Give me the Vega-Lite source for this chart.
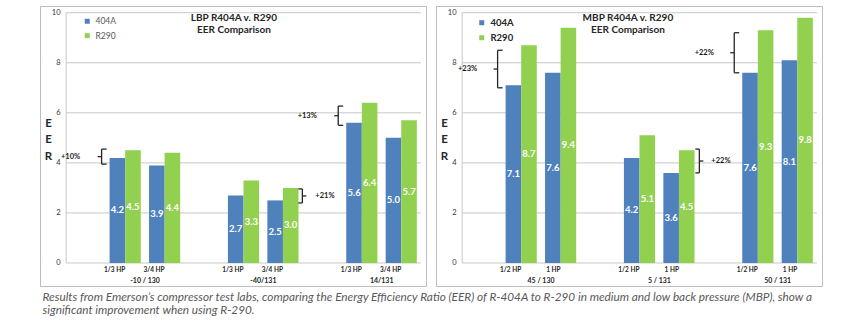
{
  "$schema": "https://vega.github.io/schema/vega-lite/v6.json",
  "background": "white",
  "padding": {"left": 39, "top": 5, "right": 0, "bottom": 0},
  "datasets": {
    "bars": [
      {"panel": "LBP", "group": "-10 / 130", "hp": "1/3 HP", "series": "404A", "value": 4.2},
      {"panel": "LBP", "group": "-10 / 130", "hp": "1/3 HP", "series": "R290", "value": 4.5},
      {"panel": "LBP", "group": "-10 / 130", "hp": "3/4 HP", "series": "404A", "value": 3.9},
      {"panel": "LBP", "group": "-10 / 130", "hp": "3/4 HP", "series": "R290", "value": 4.4},
      {"panel": "LBP", "group": "-40/131", "hp": "1/3 HP", "series": "404A", "value": 2.7},
      {"panel": "LBP", "group": "-40/131", "hp": "1/3 HP", "series": "R290", "value": 3.3},
      {"panel": "LBP", "group": "-40/131", "hp": "3/4 HP", "series": "404A", "value": 2.5},
      {"panel": "LBP", "group": "-40/131", "hp": "3/4 HP", "series": "R290", "value": 3.0},
      {"panel": "LBP", "group": "14/131", "hp": "1/3 HP", "series": "404A", "value": 5.6},
      {"panel": "LBP", "group": "14/131", "hp": "1/3 HP", "series": "R290", "value": 6.4},
      {"panel": "LBP", "group": "14/131", "hp": "3/4 HP", "series": "404A", "value": 5.0},
      {"panel": "LBP", "group": "14/131", "hp": "3/4 HP", "series": "R290", "value": 5.7},
      {"panel": "MBP", "group": "45 / 130", "hp": "1/2 HP", "series": "404A", "value": 7.1},
      {"panel": "MBP", "group": "45 / 130", "hp": "1/2 HP", "series": "R290", "value": 8.7},
      {"panel": "MBP", "group": "45 / 130", "hp": "1 HP", "series": "404A", "value": 7.6},
      {"panel": "MBP", "group": "45 / 130", "hp": "1 HP", "series": "R290", "value": 9.4},
      {"panel": "MBP", "group": "5 / 131", "hp": "1/2 HP", "series": "404A", "value": 4.2},
      {"panel": "MBP", "group": "5 / 131", "hp": "1/2 HP", "series": "R290", "value": 5.1},
      {"panel": "MBP", "group": "5 / 131", "hp": "1 HP", "series": "404A", "value": 3.6},
      {"panel": "MBP", "group": "5 / 131", "hp": "1 HP", "series": "R290", "value": 4.5},
      {"panel": "MBP", "group": "50 / 131", "hp": "1/2 HP", "series": "404A", "value": 7.6},
      {"panel": "MBP", "group": "50 / 131", "hp": "1/2 HP", "series": "R290", "value": 9.3},
      {"panel": "MBP", "group": "50 / 131", "hp": "1 HP", "series": "404A", "value": 8.1},
      {"panel": "MBP", "group": "50 / 131", "hp": "1 HP", "series": "R290", "value": 9.8}
    ],
    "ann": [
      {"panel": "LBP", "group": "-10 / 130", "hp": "1/3 HP", "side": "L", "lo": 3.95, "hi": 4.55, "label": "+10%"},
      {"panel": "LBP", "group": "14/131", "hp": "1/3 HP", "side": "L", "lo": 5.5, "hi": 6.27, "label": "+13%"},
      {"panel": "LBP", "group": "-40/131", "hp": "3/4 HP", "side": "R", "lo": 2.4, "hi": 2.96, "label": "+21%"},
      {"panel": "MBP", "group": "45 / 130", "hp": "1/2 HP", "side": "L", "lo": 7.0, "hi": 8.5, "label": "+23%"},
      {"panel": "MBP", "group": "50 / 131", "hp": "1/2 HP", "side": "L", "lo": 7.6, "hi": 9.2, "label": "+22%"},
      {"panel": "MBP", "group": "5 / 131", "hp": "1 HP", "side": "R", "lo": 3.6, "hi": 4.55, "label": "+22%"}
    ],
    "grid": [{"v": 0}, {"v": 2}, {"v": 4}, {"v": 6}, {"v": 8}, {"v": 10}],
    "titles": [
      {"panel": "LBP", "line1": "LBP R404A v. R290", "line2": "EER Comparison"},
      {"panel": "MBP", "line1": "MBP R404A v. R290", "line2": "EER Comparison"}
    ]
  },
  "title": {
    "text": ["Results from Emerson’s compressor test labs, comparing the Energy Efficiency Ratio (EER) of R-404A to R-290 in medium and low back pressure (MBP), show a", "significant improvement when using R-290."],
    "orient": "bottom", "anchor": "start", "offset": 5, "dx": 3, "baseline": "top",
    "font": "Lato", "fontStyle": "italic", "fontWeight": "normal", "fontSize": 11.8, "color": "#595959", "lineHeight": 13.5
  },
  "spacing": 8,
  "resolve": {"scale": {"x": "independent", "y": "independent", "xOffset": "independent"}, "legend": {"color": "independent"}},
  "hconcat": [
    {
      "width": 386, "height": 280,
      "layer": [
        {
          "data": {"name": "grid"},
          "mark": {"type": "rule", "color": "#c8c8c8", "strokeWidth": 1, "xOffset": -4, "x2Offset": 4},
          "encoding": {
            "x": {"datum": "gap1", "type": "nominal", "bandPosition": 0, "scale": {"domain": ["gap1", "-10 / 130|1/3 HP", "-10 / 130|3/4 HP", "gap2", "-40/131|1/3 HP", "-40/131|3/4 HP", "gap3", "14/131|1/3 HP", "14/131|3/4 HP"], "paddingInner": 0.21, "paddingOuter": 0.4985, "align": 0.767}},
            "x2": {"datum": "14/131|3/4 HP", "bandPosition": 1},
            "y": {"field": "v", "type": "quantitative", "scale": {"domain": [-0.919, 10.268], "nice": false, "zero": false}}
          }
        },
        {
          "data": {"name": "grid"},
          "transform": [{"filter": "datum.v === 0"}],
          "mark": {"type": "rule", "color": "#c8c8c8", "strokeWidth": 1, "xOffset": -4},
          "encoding": {
            "x": {"datum": "gap1", "type": "nominal", "bandPosition": 0, "scale": {"domain": ["gap1", "-10 / 130|1/3 HP", "-10 / 130|3/4 HP", "gap2", "-40/131|1/3 HP", "-40/131|3/4 HP", "gap3", "14/131|1/3 HP", "14/131|3/4 HP"], "paddingInner": 0.21, "paddingOuter": 0.4985, "align": 0.767}},
            "y": {"field": "v", "type": "quantitative", "scale": {"domain": [-0.919, 10.268], "nice": false, "zero": false}},
            "y2": {"datum": 10}
          }
        },
        {
          "data": {"name": "bars"},
          "transform": [{"filter": "datum.panel === 'LBP'"}, {"calculate": "datum.group + '|' + datum.hp", "as": "key"}],
          "mark": {"type": "bar"},
          "encoding": {
            "x": {"field": "key", "type": "nominal", "scale": {"domain": ["gap1", "-10 / 130|1/3 HP", "-10 / 130|3/4 HP", "gap2", "-40/131|1/3 HP", "-40/131|3/4 HP", "gap3", "14/131|1/3 HP", "14/131|3/4 HP"], "paddingInner": 0.21, "paddingOuter": 0.4985, "align": 0.767},
              "axis": {"title": null, "orient": "bottom", "offset": -22, "domain": false, "ticks": false, "tickSize": 0, "grid": false, "labelPadding": 2.5, "labelAngle": 0, "labelOverlap": false, "labelBaseline": "top", "labelExpr": "indexof(datum.value, '|') >= 0 ? split(datum.value, '|')[1] : ''", "labelFont": "Lato", "labelFontSize": 6.5, "labelFontWeight": "bold", "labelColor": "#262626"}},
            "xOffset": {"field": "series", "type": "nominal", "scale": {"paddingInner": 0, "paddingOuter": 0}},
            "y": {"field": "value", "type": "quantitative", "scale": {"domain": [-0.919, 10.268], "nice": false, "zero": false},
              "axis": {"values": [0, 2, 4, 6, 8, 10], "grid": false, "domain": false, "ticks": false, "tickSize": 0, "offset": -23, "labelPadding": 3, "labelFont": "Lato", "labelFontSize": 7.5, "labelColor": "#333333", "title": ["E", "E", "R"], "titleAngle": 0, "titleX": -15, "titleY": 111, "titleAlign": "center", "titleBaseline": "top", "titleFont": "Lato", "titleFontSize": 11.5, "titleFontWeight": "bold", "titleColor": "#262626", "titleLineHeight": 16.5}},
            "color": {"field": "series", "type": "nominal", "scale": {"domain": ["404A", "R290"], "range": ["#4F81BD", "#92D050"]},
              "legend": {"title": null, "orient": "none", "legendX": 43, "legendY": 11, "padding": 0, "symbolType": "square", "symbolSize": 25, "symbolStrokeWidth": 0, "rowPadding": 5.4, "labelFont": "Lato", "labelFontSize": 8.5, "labelColor": "#595959", "labelOffset": 4}}
          }
        },
        {
          "data": {"name": "bars"},
          "transform": [{"filter": "datum.panel === 'LBP'"}, {"calculate": "datum.group + '|' + datum.hp", "as": "key"}, {"calculate": "datum.value / 2", "as": "mid"}],
          "mark": {"type": "text", "color": "white", "font": "Lato", "fontWeight": "bold", "fontSize": 9.5, "baseline": "middle", "align": "center"},
          "encoding": {
            "x": {"field": "key", "type": "nominal", "scale": {"domain": ["gap1", "-10 / 130|1/3 HP", "-10 / 130|3/4 HP", "gap2", "-40/131|1/3 HP", "-40/131|3/4 HP", "gap3", "14/131|1/3 HP", "14/131|3/4 HP"], "paddingInner": 0.21, "paddingOuter": 0.4985, "align": 0.767}},
            "xOffset": {"field": "series", "type": "nominal", "scale": {"paddingInner": 0, "paddingOuter": 0}},
            "y": {"field": "mid", "type": "quantitative", "scale": {"domain": [-0.919, 10.268], "nice": false, "zero": false}},
            "text": {"field": "value", "type": "quantitative", "format": ".1f"}
          }
        },
        {
          "data": {"name": "bars"},
          "transform": [{"filter": "datum.panel === 'LBP' && datum.series === '404A' && datum.hp === '3/4 HP'"}, {"calculate": "datum.group + '|' + datum.hp", "as": "key"}],
          "mark": {"type": "text", "color": "#262626", "font": "Lato", "fontWeight": "bold", "fontSize": 7, "baseline": "middle", "align": "center", "dy": 18, "dx": -4},
          "encoding": {
            "x": {"field": "key", "type": "nominal", "bandPosition": 0, "scale": {"domain": ["gap1", "-10 / 130|1/3 HP", "-10 / 130|3/4 HP", "gap2", "-40/131|1/3 HP", "-40/131|3/4 HP", "gap3", "14/131|1/3 HP", "14/131|3/4 HP"], "paddingInner": 0.21, "paddingOuter": 0.4985, "align": 0.767}},
            "y": {"datum": 0, "type": "quantitative", "scale": {"domain": [-0.919, 10.268], "nice": false, "zero": false}},
            "text": {"field": "group"}
          }
        },
        {
          "data": {"name": "titles"},
          "transform": [{"filter": "datum.panel === 'LBP'"}],
          "mark": {"type": "text", "color": "#262626", "font": "Lato", "fontWeight": "bold", "fontSize": 10, "baseline": "top", "align": "center", "dx": 6},
          "encoding": {
            "x": {"datum": "-40/131|1/3 HP", "type": "nominal", "bandPosition": 0, "scale": {"domain": ["gap1", "-10 / 130|1/3 HP", "-10 / 130|3/4 HP", "gap2", "-40/131|1/3 HP", "-40/131|3/4 HP", "gap3", "14/131|1/3 HP", "14/131|3/4 HP"], "paddingInner": 0.21, "paddingOuter": 0.4985, "align": 0.767}},
            "y": {"datum": 10, "type": "quantitative", "scale": {"domain": [-0.919, 10.268], "nice": false, "zero": false}},
            "text": {"field": "line1"}
          }
        },
        {
          "data": {"name": "titles"},
          "transform": [{"filter": "datum.panel === 'LBP'"}],
          "mark": {"type": "text", "color": "#262626", "font": "Lato", "fontWeight": "bold", "fontSize": 10, "baseline": "top", "align": "center", "dx": 6, "dy": 12.5},
          "encoding": {
            "x": {"datum": "-40/131|1/3 HP", "type": "nominal", "bandPosition": 0, "scale": {"domain": ["gap1", "-10 / 130|1/3 HP", "-10 / 130|3/4 HP", "gap2", "-40/131|1/3 HP", "-40/131|3/4 HP", "gap3", "14/131|1/3 HP", "14/131|3/4 HP"], "paddingInner": 0.21, "paddingOuter": 0.4985, "align": 0.767}},
            "y": {"datum": 10, "type": "quantitative", "scale": {"domain": [-0.919, 10.268], "nice": false, "zero": false}},
            "text": {"field": "line2"}
          }
        },
        {
          "data": {"name": "ann"},
          "transform": [{"filter": "datum.panel === 'LBP' && datum.side === 'L'"}, {"calculate": "datum.group + '|' + datum.hp", "as": "key"}, {"calculate": "(datum.lo + datum.hi) / 2", "as": "mid"}],
          "layer": [
            {"mark": {"type": "rule", "color": "#262626", "strokeWidth": 1.3, "xOffset": -8},
             "encoding": {"y": {"field": "lo", "type": "quantitative", "scale": {"domain": [-0.919, 10.268], "nice": false, "zero": false}}, "y2": {"field": "hi"}}},
            {"mark": {"type": "rule", "color": "#262626", "strokeWidth": 1.3, "xOffset": -8, "x2Offset": -3},
             "encoding": {"x2": {"field": "key", "bandPosition": 0}, "y": {"field": "hi", "type": "quantitative", "scale": {"domain": [-0.919, 10.268], "nice": false, "zero": false}}}},
            {"mark": {"type": "rule", "color": "#262626", "strokeWidth": 1.3, "xOffset": -8, "x2Offset": -3},
             "encoding": {"x2": {"field": "key", "bandPosition": 0}, "y": {"field": "lo", "type": "quantitative", "scale": {"domain": [-0.919, 10.268], "nice": false, "zero": false}}}},
            {"mark": {"type": "rule", "color": "#262626", "strokeWidth": 1.3, "xOffset": -12, "x2Offset": -8},
             "encoding": {"x2": {"field": "key", "bandPosition": 0}, "y": {"field": "mid", "type": "quantitative", "scale": {"domain": [-0.919, 10.268], "nice": false, "zero": false}}}},
            {"mark": {"type": "text", "color": "#1a1a1a", "font": "Lato", "fontWeight": "bold", "fontSize": 7.5, "baseline": "middle", "align": "center", "dx": -39},
             "encoding": {"y": {"field": "mid", "type": "quantitative", "scale": {"domain": [-0.919, 10.268], "nice": false, "zero": false}}, "text": {"field": "label"}}}
          ],
          "encoding": {
            "x": {"field": "key", "type": "nominal", "bandPosition": 0, "scale": {"domain": ["gap1", "-10 / 130|1/3 HP", "-10 / 130|3/4 HP", "gap2", "-40/131|1/3 HP", "-40/131|3/4 HP", "gap3", "14/131|1/3 HP", "14/131|3/4 HP"], "paddingInner": 0.21, "paddingOuter": 0.4985, "align": 0.767}}
          }
        },
        {
          "data": {"name": "ann"},
          "transform": [{"filter": "datum.panel === 'LBP' && datum.side === 'R'"}, {"calculate": "datum.group + '|' + datum.hp", "as": "key"}, {"calculate": "(datum.lo + datum.hi) / 2", "as": "mid"}],
          "layer": [
            {"mark": {"type": "rule", "color": "#262626", "strokeWidth": 1.3, "xOffset": 35},
             "encoding": {"y": {"field": "lo", "type": "quantitative", "scale": {"domain": [-0.919, 10.268], "nice": false, "zero": false}}, "y2": {"field": "hi"}}},
            {"mark": {"type": "rule", "color": "#262626", "strokeWidth": 1.3, "xOffset": 31, "x2Offset": 35},
             "encoding": {"x2": {"field": "key", "bandPosition": 0}, "y": {"field": "hi", "type": "quantitative", "scale": {"domain": [-0.919, 10.268], "nice": false, "zero": false}}}},
            {"mark": {"type": "rule", "color": "#262626", "strokeWidth": 1.3, "xOffset": 31, "x2Offset": 35},
             "encoding": {"x2": {"field": "key", "bandPosition": 0}, "y": {"field": "lo", "type": "quantitative", "scale": {"domain": [-0.919, 10.268], "nice": false, "zero": false}}}},
            {"mark": {"type": "rule", "color": "#262626", "strokeWidth": 1.3, "xOffset": 35, "x2Offset": 39},
             "encoding": {"x2": {"field": "key", "bandPosition": 0}, "y": {"field": "mid", "type": "quantitative", "scale": {"domain": [-0.919, 10.268], "nice": false, "zero": false}}}},
            {"mark": {"type": "text", "color": "#1a1a1a", "font": "Lato", "fontWeight": "bold", "fontSize": 7.5, "baseline": "middle", "align": "left", "dx": 48},
             "encoding": {"y": {"field": "mid", "type": "quantitative", "scale": {"domain": [-0.919, 10.268], "nice": false, "zero": false}}, "text": {"field": "label"}}}
          ],
          "encoding": {
            "x": {"field": "key", "type": "nominal", "bandPosition": 0, "scale": {"domain": ["gap1", "-10 / 130|1/3 HP", "-10 / 130|3/4 HP", "gap2", "-40/131|1/3 HP", "-40/131|3/4 HP", "gap3", "14/131|1/3 HP", "14/131|3/4 HP"], "paddingInner": 0.21, "paddingOuter": 0.4985, "align": 0.767}}
          }
        }
      ]
    },
    {
      "width": 386, "height": 280,
      "layer": [
        {
          "data": {"name": "grid"},
          "mark": {"type": "rule", "color": "#c8c8c8", "strokeWidth": 1, "xOffset": -4, "x2Offset": 4},
          "encoding": {
            "x": {"datum": "gap1", "type": "nominal", "bandPosition": 0, "scale": {"domain": ["gap1", "45 / 130|1/2 HP", "45 / 130|1 HP", "gap2", "5 / 131|1/2 HP", "5 / 131|1 HP", "gap3", "50 / 131|1/2 HP", "50 / 131|1 HP"], "paddingInner": 0.21, "paddingOuter": 0.4985, "align": 0.767}},
            "x2": {"datum": "50 / 131|1 HP", "bandPosition": 1},
            "y": {"field": "v", "type": "quantitative", "scale": {"domain": [-0.919, 10.268], "nice": false, "zero": false}}
          }
        },
        {
          "data": {"name": "grid"},
          "transform": [{"filter": "datum.v === 0"}],
          "mark": {"type": "rule", "color": "#c8c8c8", "strokeWidth": 1, "xOffset": -4},
          "encoding": {
            "x": {"datum": "gap1", "type": "nominal", "bandPosition": 0, "scale": {"domain": ["gap1", "45 / 130|1/2 HP", "45 / 130|1 HP", "gap2", "5 / 131|1/2 HP", "5 / 131|1 HP", "gap3", "50 / 131|1/2 HP", "50 / 131|1 HP"], "paddingInner": 0.21, "paddingOuter": 0.4985, "align": 0.767}},
            "y": {"field": "v", "type": "quantitative", "scale": {"domain": [-0.919, 10.268], "nice": false, "zero": false}},
            "y2": {"datum": 10}
          }
        },
        {
          "data": {"name": "bars"},
          "transform": [{"filter": "datum.panel === 'MBP'"}, {"calculate": "datum.group + '|' + datum.hp", "as": "key"}],
          "mark": {"type": "bar"},
          "encoding": {
            "x": {"field": "key", "type": "nominal", "scale": {"domain": ["gap1", "45 / 130|1/2 HP", "45 / 130|1 HP", "gap2", "5 / 131|1/2 HP", "5 / 131|1 HP", "gap3", "50 / 131|1/2 HP", "50 / 131|1 HP"], "paddingInner": 0.21, "paddingOuter": 0.4985, "align": 0.767},
              "axis": {"title": null, "orient": "bottom", "offset": -22, "domain": false, "ticks": false, "tickSize": 0, "grid": false, "labelPadding": 2.5, "labelAngle": 0, "labelOverlap": false, "labelBaseline": "top", "labelExpr": "indexof(datum.value, '|') >= 0 ? split(datum.value, '|')[1] : ''", "labelFont": "Lato", "labelFontSize": 6.5, "labelFontWeight": "bold", "labelColor": "#262626"}},
            "xOffset": {"field": "series", "type": "nominal", "scale": {"paddingInner": 0, "paddingOuter": 0}},
            "y": {"field": "value", "type": "quantitative", "scale": {"domain": [-0.919, 10.268], "nice": false, "zero": false},
              "axis": {"values": [0, 2, 4, 6, 8, 10], "grid": false, "domain": false, "ticks": false, "tickSize": 0, "offset": -23, "labelPadding": 3, "labelFont": "Lato", "labelFontSize": 7.5, "labelColor": "#333333", "title": ["E", "E", "R"], "titleAngle": 0, "titleX": -15, "titleY": 111, "titleAlign": "center", "titleBaseline": "top", "titleFont": "Lato", "titleFontSize": 11.5, "titleFontWeight": "bold", "titleColor": "#262626", "titleLineHeight": 16.5}},
            "color": {"field": "series", "type": "nominal", "scale": {"domain": ["404A", "R290"], "range": ["#4F81BD", "#92D050"]},
              "legend": {"title": null, "orient": "none", "legendX": 41, "legendY": 12, "padding": 0, "symbolType": "square", "symbolSize": 25, "symbolStrokeWidth": 0, "rowPadding": 4, "labelFont": "Lato", "labelFontSize": 9.5, "labelFontWeight": "bold", "labelColor": "#262626", "labelOffset": 4}}
          }
        },
        {
          "data": {"name": "bars"},
          "transform": [{"filter": "datum.panel === 'MBP'"}, {"calculate": "datum.group + '|' + datum.hp", "as": "key"}, {"calculate": "datum.value / 2", "as": "mid"}],
          "mark": {"type": "text", "color": "white", "font": "Lato", "fontWeight": "bold", "fontSize": 9.5, "baseline": "middle", "align": "center"},
          "encoding": {
            "x": {"field": "key", "type": "nominal", "scale": {"domain": ["gap1", "45 / 130|1/2 HP", "45 / 130|1 HP", "gap2", "5 / 131|1/2 HP", "5 / 131|1 HP", "gap3", "50 / 131|1/2 HP", "50 / 131|1 HP"], "paddingInner": 0.21, "paddingOuter": 0.4985, "align": 0.767}},
            "xOffset": {"field": "series", "type": "nominal", "scale": {"paddingInner": 0, "paddingOuter": 0}},
            "y": {"field": "mid", "type": "quantitative", "scale": {"domain": [-0.919, 10.268], "nice": false, "zero": false}},
            "text": {"field": "value", "type": "quantitative", "format": ".1f"}
          }
        },
        {
          "data": {"name": "bars"},
          "transform": [{"filter": "datum.panel === 'MBP' && datum.series === '404A' && datum.hp === '1 HP'"}, {"calculate": "datum.group + '|' + datum.hp", "as": "key"}],
          "mark": {"type": "text", "color": "#262626", "font": "Lato", "fontWeight": "bold", "fontSize": 7, "baseline": "middle", "align": "center", "dy": 18, "dx": -4},
          "encoding": {
            "x": {"field": "key", "type": "nominal", "bandPosition": 0, "scale": {"domain": ["gap1", "45 / 130|1/2 HP", "45 / 130|1 HP", "gap2", "5 / 131|1/2 HP", "5 / 131|1 HP", "gap3", "50 / 131|1/2 HP", "50 / 131|1 HP"], "paddingInner": 0.21, "paddingOuter": 0.4985, "align": 0.767}},
            "y": {"datum": 0, "type": "quantitative", "scale": {"domain": [-0.919, 10.268], "nice": false, "zero": false}},
            "text": {"field": "group"}
          }
        },
        {
          "data": {"name": "titles"},
          "transform": [{"filter": "datum.panel === 'MBP'"}],
          "mark": {"type": "text", "color": "#262626", "font": "Lato", "fontWeight": "bold", "fontSize": 10, "baseline": "top", "align": "center", "dx": 4},
          "encoding": {
            "x": {"datum": "5 / 131|1/2 HP", "type": "nominal", "bandPosition": 0, "scale": {"domain": ["gap1", "45 / 130|1/2 HP", "45 / 130|1 HP", "gap2", "5 / 131|1/2 HP", "5 / 131|1 HP", "gap3", "50 / 131|1/2 HP", "50 / 131|1 HP"], "paddingInner": 0.21, "paddingOuter": 0.4985, "align": 0.767}},
            "y": {"datum": 10, "type": "quantitative", "scale": {"domain": [-0.919, 10.268], "nice": false, "zero": false}},
            "text": {"field": "line1"}
          }
        },
        {
          "data": {"name": "titles"},
          "transform": [{"filter": "datum.panel === 'MBP'"}],
          "mark": {"type": "text", "color": "#262626", "font": "Lato", "fontWeight": "bold", "fontSize": 10, "baseline": "top", "align": "center", "dx": 4, "dy": 12.5},
          "encoding": {
            "x": {"datum": "5 / 131|1/2 HP", "type": "nominal", "bandPosition": 0, "scale": {"domain": ["gap1", "45 / 130|1/2 HP", "45 / 130|1 HP", "gap2", "5 / 131|1/2 HP", "5 / 131|1 HP", "gap3", "50 / 131|1/2 HP", "50 / 131|1 HP"], "paddingInner": 0.21, "paddingOuter": 0.4985, "align": 0.767}},
            "y": {"datum": 10, "type": "quantitative", "scale": {"domain": [-0.919, 10.268], "nice": false, "zero": false}},
            "text": {"field": "line2"}
          }
        },
        {
          "data": {"name": "ann"},
          "transform": [{"filter": "datum.panel === 'MBP' && datum.side === 'L'"}, {"calculate": "datum.group + '|' + datum.hp", "as": "key"}, {"calculate": "(datum.lo + datum.hi) / 2", "as": "mid"}],
          "layer": [
            {"mark": {"type": "rule", "color": "#262626", "strokeWidth": 1.3, "xOffset": -8},
             "encoding": {"y": {"field": "lo", "type": "quantitative", "scale": {"domain": [-0.919, 10.268], "nice": false, "zero": false}}, "y2": {"field": "hi"}}},
            {"mark": {"type": "rule", "color": "#262626", "strokeWidth": 1.3, "xOffset": -8, "x2Offset": -3},
             "encoding": {"x2": {"field": "key", "bandPosition": 0}, "y": {"field": "hi", "type": "quantitative", "scale": {"domain": [-0.919, 10.268], "nice": false, "zero": false}}}},
            {"mark": {"type": "rule", "color": "#262626", "strokeWidth": 1.3, "xOffset": -8, "x2Offset": -3},
             "encoding": {"x2": {"field": "key", "bandPosition": 0}, "y": {"field": "lo", "type": "quantitative", "scale": {"domain": [-0.919, 10.268], "nice": false, "zero": false}}}},
            {"mark": {"type": "rule", "color": "#262626", "strokeWidth": 1.3, "xOffset": -12, "x2Offset": -8},
             "encoding": {"x2": {"field": "key", "bandPosition": 0}, "y": {"field": "mid", "type": "quantitative", "scale": {"domain": [-0.919, 10.268], "nice": false, "zero": false}}}},
            {"mark": {"type": "text", "color": "#1a1a1a", "font": "Lato", "fontWeight": "bold", "fontSize": 7.5, "baseline": "middle", "align": "center", "dx": -38},
             "encoding": {"y": {"field": "mid", "type": "quantitative", "scale": {"domain": [-0.919, 10.268], "nice": false, "zero": false}}, "text": {"field": "label"}}}
          ],
          "encoding": {
            "x": {"field": "key", "type": "nominal", "bandPosition": 0, "scale": {"domain": ["gap1", "45 / 130|1/2 HP", "45 / 130|1 HP", "gap2", "5 / 131|1/2 HP", "5 / 131|1 HP", "gap3", "50 / 131|1/2 HP", "50 / 131|1 HP"], "paddingInner": 0.21, "paddingOuter": 0.4985, "align": 0.767}}
          }
        },
        {
          "data": {"name": "ann"},
          "transform": [{"filter": "datum.panel === 'MBP' && datum.side === 'R'"}, {"calculate": "datum.group + '|' + datum.hp", "as": "key"}, {"calculate": "(datum.lo + datum.hi) / 2", "as": "mid"}],
          "layer": [
            {"mark": {"type": "rule", "color": "#262626", "strokeWidth": 1.3, "xOffset": 36},
             "encoding": {"y": {"field": "lo", "type": "quantitative", "scale": {"domain": [-0.919, 10.268], "nice": false, "zero": false}}, "y2": {"field": "hi"}}},
            {"mark": {"type": "rule", "color": "#262626", "strokeWidth": 1.3, "xOffset": 32, "x2Offset": 36},
             "encoding": {"x2": {"field": "key", "bandPosition": 0}, "y": {"field": "hi", "type": "quantitative", "scale": {"domain": [-0.919, 10.268], "nice": false, "zero": false}}}},
            {"mark": {"type": "rule", "color": "#262626", "strokeWidth": 1.3, "xOffset": 32, "x2Offset": 36},
             "encoding": {"x2": {"field": "key", "bandPosition": 0}, "y": {"field": "lo", "type": "quantitative", "scale": {"domain": [-0.919, 10.268], "nice": false, "zero": false}}}},
            {"mark": {"type": "rule", "color": "#262626", "strokeWidth": 1.3, "xOffset": 36, "x2Offset": 40},
             "encoding": {"x2": {"field": "key", "bandPosition": 0}, "y": {"field": "mid", "type": "quantitative", "scale": {"domain": [-0.919, 10.268], "nice": false, "zero": false}}}},
            {"mark": {"type": "text", "color": "#1a1a1a", "font": "Lato", "fontWeight": "bold", "fontSize": 7.5, "baseline": "middle", "align": "left", "dx": 48},
             "encoding": {"y": {"field": "mid", "type": "quantitative", "scale": {"domain": [-0.919, 10.268], "nice": false, "zero": false}}, "text": {"field": "label"}}}
          ],
          "encoding": {
            "x": {"field": "key", "type": "nominal", "bandPosition": 0, "scale": {"domain": ["gap1", "45 / 130|1/2 HP", "45 / 130|1 HP", "gap2", "5 / 131|1/2 HP", "5 / 131|1 HP", "gap3", "50 / 131|1/2 HP", "50 / 131|1 HP"], "paddingInner": 0.21, "paddingOuter": 0.4985, "align": 0.767}}
          }
        }
      ]
    }
  ],
  "config": {
    "font": "Lato",
    "view": {"stroke": "#bdbdbd", "strokeWidth": 1}
  }
}
